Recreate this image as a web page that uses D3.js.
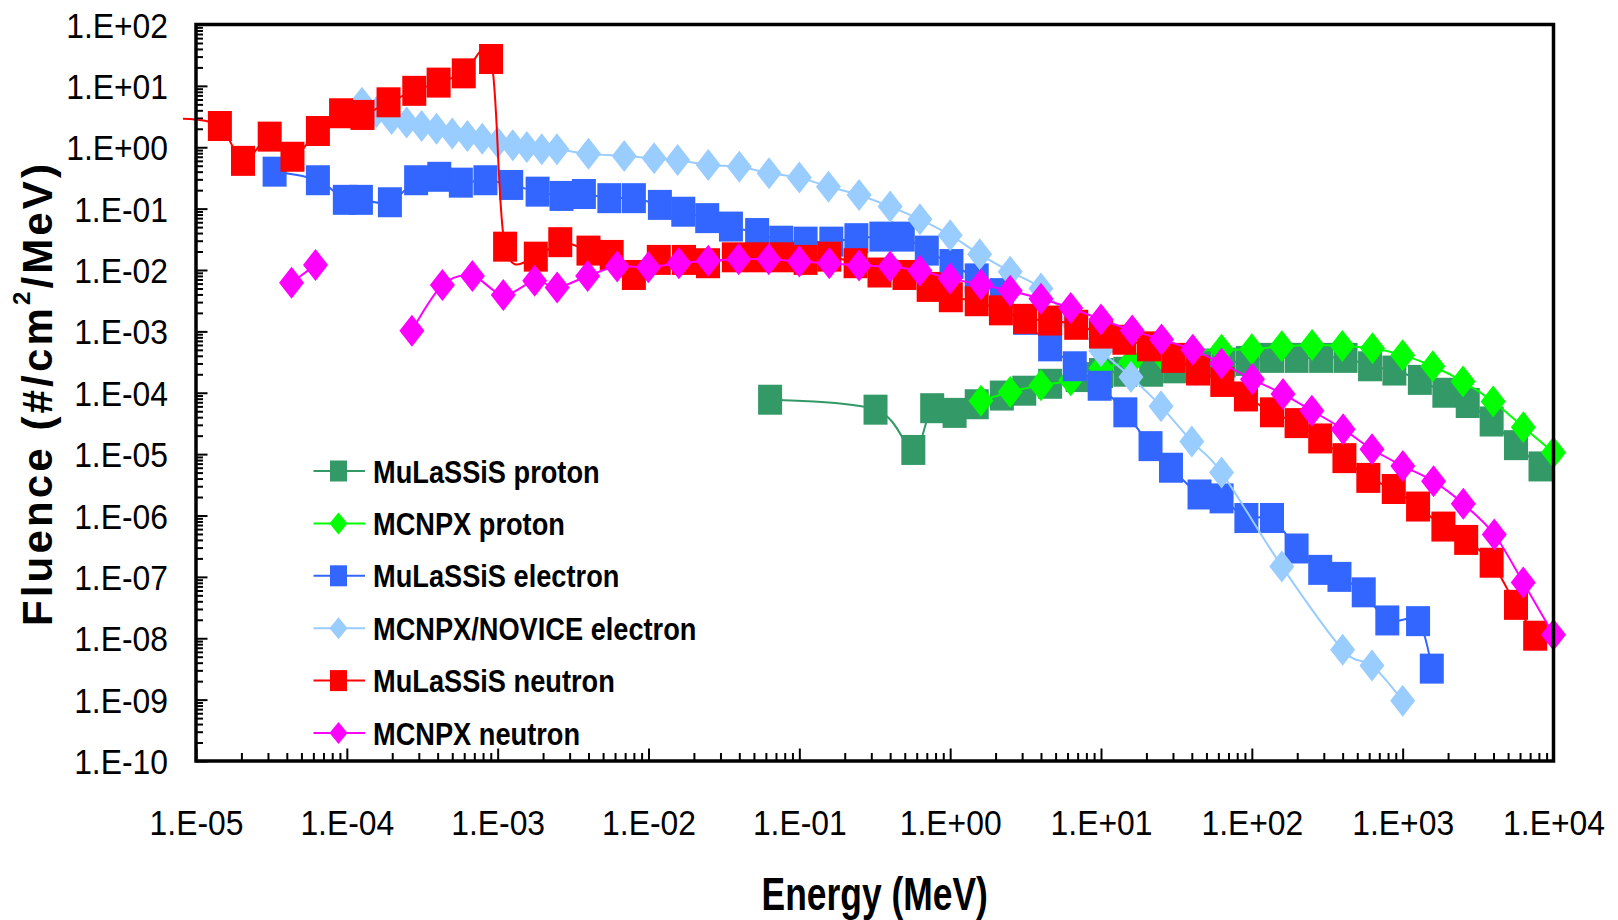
<!DOCTYPE html>
<html>
<head>
<meta charset="utf-8">
<script src="https://cdn.jsdelivr.net/npm/d3@7"></script>
<style>
  body { margin: 0; background: #fff; }
  text { font-family: "Liberation Sans", Arial, sans-serif; fill: #000; }
</style>
</head>
<body>
<svg width="1618" height="920"></svg>
<script>
// ---- data (energy in MeV, fluence in #/cm2/MeV)
var xTicks = [1e-5, 1e-4, 1e-3, 1e-2, 1e-1, 1e0, 1e1, 1e2, 1e3, 1e4];
var yTicks = [1e-10, 1e-9, 1e-8, 1e-7, 1e-6, 1e-5, 1e-4, 1e-3, 1e-2, 1e-1, 1e0, 1e1, 1e2];

var names = ["MuLaSSiS proton", "MCNPX proton", "MuLaSSiS electron",
             "MCNPX/NOVICE electron", "MuLaSSiS neutron", "MCNPX neutron"];

var mulProtonE = [0.064, 0.32, 0.57, 0.76, 1.07, 1.5, 2.2, 3.1, 4.6, 7.0, 10, 14.5, 21.5, 31, 45, 65, 94, 136,
                  198, 288, 418, 608, 881, 1300, 1890, 2700, 3890, 5640, 8200];
var mulProtonF = [7.7e-5, 5.3e-5, 1.17e-5, 5.6e-5, 4.7e-5, 6.5e-5, 9.0e-5, 1.08e-4, 1.4e-4, 1.8e-4, 2.1e-4, 2.2e-4,
                  2.2e-4, 2.5e-4, 3.0e-4, 3.1e-4, 3.3e-4, 3.7e-4, 3.7e-4, 3.7e-4, 3.7e-4, 2.7e-4, 2.3e-4, 1.62e-4,
                  1.0e-4, 6.8e-5, 3.4e-5, 1.4e-5, 6.3e-6];

var mcnpProtonE = [1.6, 2.5, 4.0, 6.3, 10, 15.8, 25, 40, 63, 100, 158, 251, 398, 631, 1000, 1585, 2512, 3981, 6310, 10000];
var mcnpProtonF = [7.4e-5, 1.03e-4, 1.32e-4, 1.6e-4, 2.5e-4, 3.2e-4, 4.3e-4, 4.7e-4, 5.0e-4, 5.1e-4, 5.7e-4, 6.0e-4,
                   5.8e-4, 5.3e-4, 4.1e-4, 2.7e-4, 1.52e-4, 7.2e-5, 2.75e-5, 1.06e-5];

var mulElectronE = [3.32e-5, 6.43e-5, 9.7e-5, 1.24e-4, 1.93e-4, 2.88e-4, 4.1e-4, 5.7e-4, 8.3e-4, 1.23e-3, 1.84e-3,
                    2.65e-3, 3.73e-3, 5.5e-3, 8.0e-3, 0.0119, 0.017, 0.0245, 0.0352, 0.0525, 0.0758, 0.11, 0.163,
                    0.239, 0.35, 0.485, 0.70, 1.02, 1.5, 2.2, 3.14, 4.6, 6.7, 9.8, 14.5, 21.3, 29.1, 45, 63, 92, 136,
                    198, 284, 381, 552, 791, 1265, 1560];
var mulElectronF = [0.40, 0.29, 0.139, 0.139, 0.127, 0.29, 0.33, 0.265, 0.29, 0.243, 0.189, 0.161, 0.173, 0.148,
                    0.148, 0.115, 0.089, 0.070, 0.051, 0.040, 0.030, 0.029, 0.029, 0.033, 0.035, 0.035, 0.0207,
                    0.0125, 0.0073, 0.0042, 0.00154, 5.7e-4, 2.7e-4, 1.3e-4, 4.8e-5, 1.35e-5, 6.0e-6, 2.2e-6, 1.9e-6,
                    9.1e-7, 9.1e-7, 2.9e-7, 1.3e-7, 1.0e-7, 5.6e-8, 1.95e-8, 1.9e-8, 3.2e-9];

var mcnpElectronE = [1.26e-4, 1.57e-4, 1.98e-4, 2.49e-4, 3.13e-4, 3.93e-4, 5.0e-4, 6.3e-4, 7.9e-4, 1.0e-3, 1.26e-3,
                     1.56e-3, 1.96e-3, 2.47e-3, 4.0e-3, 6.9e-3, 0.0109, 0.0156, 0.0249, 0.040, 0.063, 0.10, 0.156,
                     0.249, 0.40, 0.63, 1.0, 1.57, 2.5, 4.0, 6.3, 10, 15.8, 25, 40, 63, 158, 400, 626, 1000];
var mcnpElectronF = [5.3, 3.76, 2.89, 2.52, 2.22, 2.01, 1.67, 1.53, 1.38, 1.19, 1.08, 1.01, 0.93, 0.93, 0.78, 0.72,
                     0.66, 0.62, 0.515, 0.48, 0.377, 0.32, 0.228, 0.167, 0.108, 0.067, 0.037, 0.018, 0.0094, 0.0050,
                     0.0015, 4.8e-4, 1.8e-4, 6.0e-5, 1.6e-5, 5.0e-6, 1.48e-7, 6.5e-9, 3.6e-9, 9.6e-10];

// first point lies left of the axis minimum: only its line segment shows
var mulNeutronE = [8.2e-6, 1.44e-5, 2.05e-5, 3.08e-5, 4.36e-5, 6.43e-5, 9.16e-5, 1.27e-4, 1.89e-4, 2.8e-4, 4.06e-4,
                   5.96e-4, 9.04e-4, 1.12e-3, 1.79e-3, 2.6e-3, 4.0e-3, 5.7e-3, 8.0e-3, 0.0117, 0.0172, 0.0248,
                   0.0368, 0.0525, 0.0769, 0.11, 0.158, 0.236, 0.34, 0.498, 0.72, 1.01, 1.5, 2.17, 3.14, 4.6, 6.85,
                   10.0, 14.3, 20.8, 30.2, 44, 63.7, 91.4, 136, 198, 284, 411, 592, 873, 1265, 1862, 2637, 3890,
                   5640, 7560];
var mulNeutronF = [2.9, 2.22, 0.60, 1.49, 0.70, 1.84, 3.58, 3.36, 5.4, 8.3, 11.3, 16, 27.4, 0.024, 0.0165, 0.0284,
                   0.0207, 0.0176, 0.0083, 0.0146, 0.0146, 0.0129, 0.0161, 0.0161, 0.0161, 0.0146, 0.0165, 0.0129,
                   0.0091, 0.0083, 0.0053, 0.0036, 0.0031, 0.0022, 0.0016, 0.0015, 0.00128, 9.2e-4, 7.3e-4, 5.7e-4,
                   3.7e-4, 2.3e-4, 1.5e-4, 8.7e-5, 4.8e-5, 3.2e-5, 1.8e-5, 8.6e-6, 4.1e-6, 2.7e-6, 1.4e-6, 6.6e-7,
                   4.0e-7, 1.7e-7, 3.5e-8, 1.1e-8];

// null = gap in the series
var mcnpNeutronE = [4.3e-5, 6.2e-5, 1.2e-4, 2.7e-4, 4.3e-4, 6.8e-4, 1.09e-3, 1.76e-3, 2.48e-3, 3.95e-3, 6.2e-3,
                    9.98e-3, 0.0159, 0.0249, 0.0396, 0.0627, 0.1, 0.158, 0.249, 0.4, 0.63, 1.0, 1.6, 2.5, 4.0, 6.3,
                    10, 16.1, 25.2, 40.6, 63, 101, 161, 250, 403, 626, 1003, 1603, 2523, 4050, 6300, 10000];
var mcnpNeutronF = [0.0062, 0.0121, null, 0.00102, 0.0057, 0.0080, 0.0039, 0.0067, 0.0052, 0.0080, 0.0114, 0.0111,
                    0.0129, 0.0141, 0.015, 0.015, 0.0137, 0.0129, 0.0118, 0.0114, 0.0097, 0.0073, 0.0058, 0.0046,
                    0.0034, 0.0024, 0.00156, 0.00103, 7.4e-4, 5.0e-4, 3.0e-4, 1.66e-4, 9.5e-5, 5.1e-5, 2.55e-5,
                    1.2e-5, 6.4e-6, 3.6e-6, 1.55e-6, 4.9e-7, 8.1e-8, 1.14e-8];

// ---- layout
var svg = d3.select("svg"),
    plotL = 196, plotR = 1553.5, plotT = 24.5, plotB = 761;

var x = d3.scaleLog().domain([1e-5, 1e4]).range([plotL, plotR]);
var y = d3.scaleLog().domain([1e-10, 1e2]).range([plotB, plotT]);

function fmt(v) {
  var p = Math.round(Math.log10(v));
  return "1.E" + (p < 0 ? "-" : "+") + (Math.abs(p) < 10 ? "0" : "") + Math.abs(p);
}

// squeeze text horizontally like the narrow original
function squeeze(sel, k) {
  sel.each(function () {
    var w = this.getComputedTextLength();
    d3.select(this).attr("textLength", w * k).attr("lengthAdjust", "spacingAndGlyphs");
  });
}

function minors(lo, hi) {
  var out = [];
  for (var p = lo; p < hi; p++)
    for (var m = 2; m <= 9; m++) out.push(m * Math.pow(10, p));
  return out;
}

var series = [
  {name: names[0], E: mulProtonE, F: mulProtonF, color: "#339966", marker: "square"},
  {name: names[1], E: mcnpProtonE, F: mcnpProtonF, color: "#00ff00", marker: "diamond"},
  {name: names[2], E: mulElectronE, F: mulElectronF, color: "#3366ff", marker: "square"},
  {name: names[3], E: mcnpElectronE, F: mcnpElectronF, color: "#99ccff", marker: "diamond"},
  {name: names[4], E: mulNeutronE, F: mulNeutronF, color: "#ff0000", marker: "square"},
  {name: names[5], E: mcnpNeutronE, F: mcnpNeutronF, color: "#ff00ff", marker: "diamond"}
];

var shapes = {
  square: "M-12,-15h24v30h-24Z",
  diamond: "M0,-16L12.5,0L0,16L-12.5,0Z"
};
var legendShapes = {
  square: "M-8.5,-10.5h17v21h-17Z",
  diamond: "M0,-11L9,0L0,11L-9,0Z"
};

// ---- axes (ticks point inside)
var gx = svg.append("g").attr("transform", "translate(0," + plotB + ")");
gx.call(d3.axisBottom(x).tickValues(minors(-5, 4)).tickSizeInner(-8).tickSizeOuter(0).tickFormat(""));
gx.append("g").call(d3.axisBottom(x).tickValues(xTicks).tickSizeInner(-12.5).tickSizeOuter(0)
  .tickPadding(49).tickFormat(fmt));

var gy = svg.append("g").attr("transform", "translate(" + plotL + ",0)");
gy.call(d3.axisLeft(y).tickValues(minors(-10, 2)).tickSizeInner(-7).tickSizeOuter(0).tickFormat(""));
gy.append("g").call(d3.axisLeft(y).tickValues(yTicks).tickSizeInner(-11.5).tickSizeOuter(0)
  .tickPadding(28).tickFormat(fmt));

svg.selectAll(".domain").remove();
svg.selectAll(".tick line").attr("stroke", "#000").attr("stroke-width", 2);
svg.selectAll(".tick text").attr("font-size", 35).attr("font-family", "Liberation Sans, Arial, sans-serif");
gy.selectAll(".tick text").attr("dy", "0.36em");
squeeze(svg.selectAll(".tick text"), 0.91);

// ---- series: each series draws its line then its markers
var line = d3.line()
    .defined(function (d) { return d[1] != null; })
    .x(function (d) { return x(d[0]); })
    .y(function (d) { return y(d[1]); })
    .curve(d3.curveCatmullRom.alpha(0));

series.forEach(function (s) {
  var pts = s.E.map(function (e, i) { return [e, s.F[i]]; });
  var g = svg.append("g");
  g.append("path")
    .attr("d", line(pts))
    .attr("fill", "none")
    .attr("stroke", s.color)
    .attr("stroke-width", 2);
  g.selectAll("path.mk")
    .data(pts.filter(function (d) { return d[1] != null && d[0] >= 1e-5; }))
    .enter().append("path")
    .attr("class", "mk")
    .attr("d", shapes[s.marker])
    .attr("transform", function (d) { return "translate(" + x(d[0]) + "," + y(d[1]) + ")"; })
    .attr("fill", s.color);
});

// plot frame
svg.append("rect")
  .attr("x", plotL).attr("y", plotT)
  .attr("width", plotR - plotL).attr("height", plotB - plotT)
  .attr("fill", "none").attr("stroke", "#000").attr("stroke-width", 3.5);

// ---- legend
var leg = svg.append("g").selectAll("g")
  .data(series).enter().append("g")
  .attr("transform", function (d, i) { return "translate(0," + (471 + i * 52.4) + ")"; });
leg.append("line")
  .attr("x1", 313.5).attr("x2", 365)
  .attr("stroke", function (d) { return d.color; }).attr("stroke-width", 2);
leg.append("path")
  .attr("d", function (d) { return legendShapes[d.marker]; })
  .attr("transform", "translate(338.5,0)")
  .attr("fill", function (d) { return d.color; });
var legText = leg.append("text")
  .attr("x", 373).attr("y", 11.5)
  .attr("font-size", 32).attr("font-weight", "bold")
  .text(function (d) { return d.name; });
squeeze(legText, 0.85);

// ---- axis titles
var xt = svg.append("text")
  .attr("x", (plotL + plotR) / 2).attr("y", 910)
  .attr("text-anchor", "middle")
  .attr("font-size", 46).attr("font-weight", "bold")
  .text("Energy (MeV)");
squeeze(xt, 0.77);

var yt = svg.append("text")
  .attr("transform", "translate(52,395) rotate(-90)")
  .attr("text-anchor", "middle")
  .attr("font-size", 42).attr("font-weight", "bold")
  .attr("textLength", 462).attr("lengthAdjust", "spacing");
yt.append("tspan").text("Fluence (#/cm");
yt.append("tspan").attr("font-size", 24).attr("dy", -22).text("2");
yt.append("tspan").attr("dy", 22).text("/MeV)");
</script>
</body>
</html>
